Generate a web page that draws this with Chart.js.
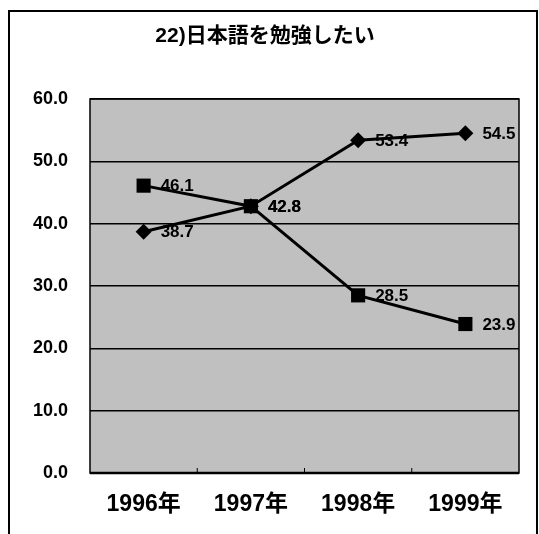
<!DOCTYPE html>
<html>
<head>
<meta charset="utf-8">
<script src="https://cdn.jsdelivr.net/npm/chart.js@4/dist/chart.umd.min.js"></script>
<style>
  html, body { margin: 0; padding: 0; background: #fff; }
  #wrap { width: 539px; height: 534px; }
</style>
</head>
<body>
<div id="wrap"><canvas id="myChart" width="539" height="534"></canvas></div>
<script>
// datos
const titulo = "22)日本語を勉強したい"
const anios = ["1996年", "1997年", "1998年", "1999年"]
const serieRombo = [38.7, 42.8, 53.4, 54.5]
const serieCuadro = [46.1, 42.8, 28.5, 23.9]
const ticksY = [0, 10, 20, 30, 40, 50, 60]

const fuente = "'Liberation Sans', Arial, 'Noto Sans CJK JP', sans-serif"

// marco, titulo, fondo y etiquetas
const dibujoExtra = {
    id: "dibujoExtra",
    beforeDraw(chart) {
        const c = chart.ctx
        const a = chart.chartArea
        c.save()
        c.fillStyle = "#fff"
        c.fillRect(0, 0, chart.width, chart.height)
        c.strokeStyle = "#000"
        c.lineWidth = 2
        c.strokeRect(9, 11, 528, 560)
        c.fillStyle = "#c0c0c0"
        c.fillRect(a.left, a.top, a.right - a.left, a.bottom - a.top)
        c.fillStyle = "#000"
        c.font = "bold 21px " + fuente
        c.textAlign = "center"
        c.textBaseline = "middle"
        c.fillText(titulo, 265, 36)
        c.restore()
    },
    beforeDatasetsDraw(chart) {
        const c = chart.ctx
        const a = chart.chartArea
        const x = chart.scales.x
        c.save()
        // borde del area
        c.strokeStyle = "#000"
        c.lineWidth = 1.5
        c.strokeRect(a.left, a.top, a.right - a.left, a.bottom - a.top)
        c.lineWidth = 2.5
        c.beginPath()
        c.moveTo(a.left, a.bottom)
        c.lineTo(a.right, a.bottom)
        c.stroke()
        // marcas entre categorias
        c.lineWidth = 1
        for (let i = 0; i < anios.length - 1; i++) {
            const px = (x.getPixelForValue(i) + x.getPixelForValue(i + 1)) / 2
            c.beginPath()
            c.moveTo(px, a.bottom)
            c.lineTo(px, a.bottom - 5)
            c.stroke()
        }
        // etiquetas de datos
        c.fillStyle = "#000"
        c.font = "bold 17px " + fuente
        c.textAlign = "left"
        c.textBaseline = "middle"
        chart.data.datasets.forEach((ds, i) => {
            const meta = chart.getDatasetMeta(i)
            meta.data.forEach((p, j) => {
                c.fillText(ds.data[j].toFixed(1), p.x + 17, p.y + 1)
            })
        })
        c.restore()
    }
}

let ctx = document.getElementById("myChart").getContext("2d")

let myChart = new Chart(ctx, {
    type: "line",
    data: {
        labels: anios,
        datasets: [
            {
                label: "A",
                data: serieCuadro,
                order: 0,
                borderColor: "#000",
                borderWidth: 3,
                pointStyle: "rect",
                pointRadius: 10,
                pointBackgroundColor: "#000",
                pointBorderColor: "#000",
                pointBorderWidth: 0,
                tension: 0
            },
            {
                label: "B",
                data: serieRombo,
                order: 1,
                borderColor: "#000",
                borderWidth: 3,
                pointStyle: "rectRot",
                pointRadius: 8,
                pointBackgroundColor: "#000",
                pointBorderColor: "#000",
                pointBorderWidth: 0,
                tension: 0
            }
        ]
    },
    options: {
        responsive: false,
        animation: false,
        devicePixelRatio: 1,
        layout: { padding: { top: 99, right: 20, left: 0, bottom: 0 } },
        plugins: {
            legend: { display: false },
            title: { display: false },
            tooltip: { enabled: false }
        },
        scales: {
            x: {
                offset: true,
                grid: { display: false },
                border: { display: false },
                afterFit: (s) => { s.height = 61 },
                ticks: {
                    color: "#000",
                    padding: 10,
                    font: { family: fuente, size: 23, weight: "bold" },
                    maxRotation: 0
                }
            },
            y: {
                min: 0,
                max: 60,
                afterFit: (s) => { s.width = 90 },
                afterBuildTicks: (s) => { s.ticks = ticksY.map(v => ({ value: v })) },
                border: { display: false },
                grid: { color: "#000", lineWidth: 1.5, drawTicks: false },
                ticks: {
                    color: "#000",
                    padding: 22,
                    font: { family: fuente, size: 18, weight: "bold" },
                    callback: (v) => v.toFixed(1)
                }
            }
        }
    },
    plugins: [dibujoExtra]
})
</script>
</body>
</html>
